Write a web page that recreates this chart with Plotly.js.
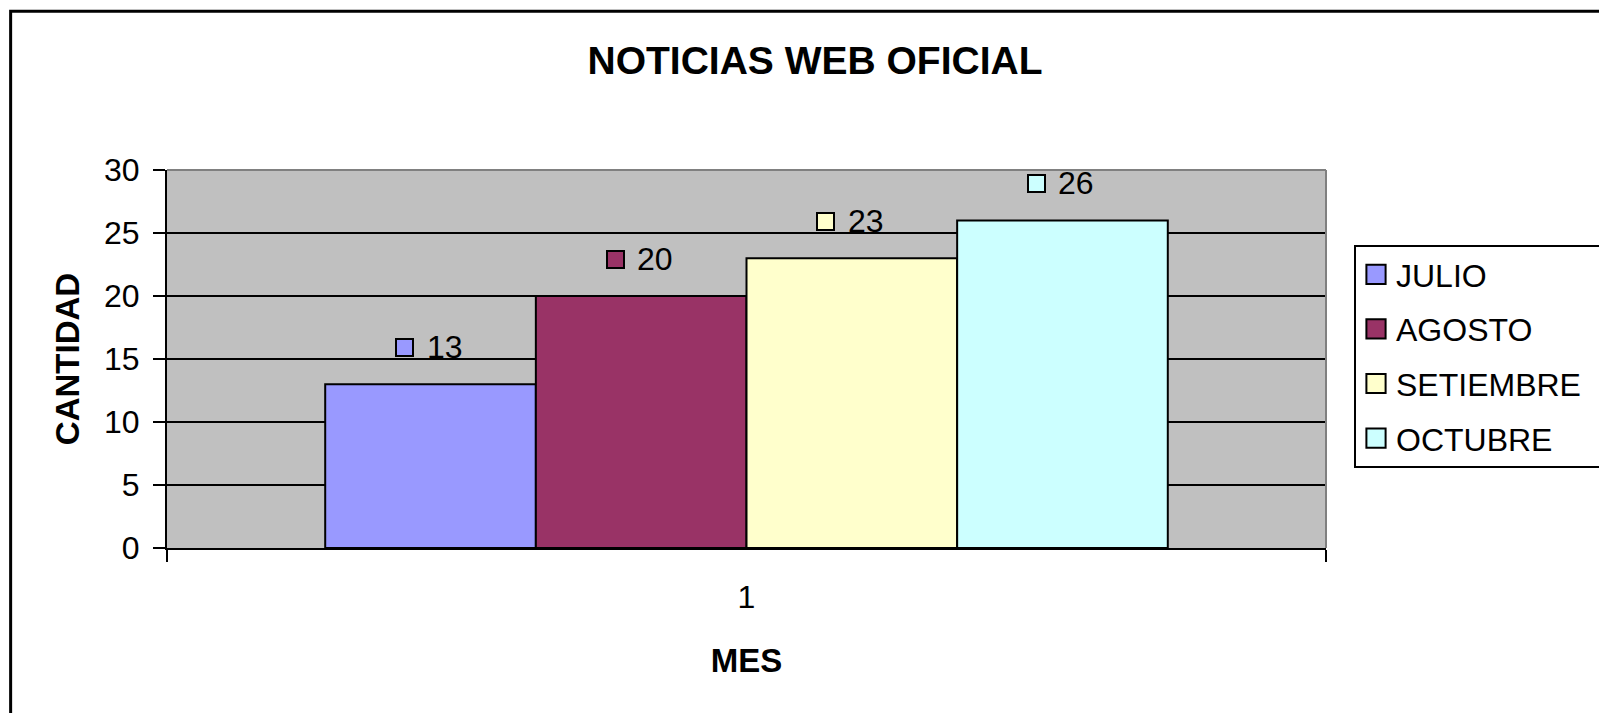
<!DOCTYPE html>
<html>
<head>
<meta charset="utf-8">
<script src="https://cdn.plot.ly/plotly-3.0.1.min.js"></script>
<style>
  html, body { margin: 0; padding: 0; background: #ffffff; }
  #chart { width: 1599px; height: 713px; }
</style>
</head>
<body>
<div id="chart"></div>
<script>
// ---- data ----
const categories = ['1'];
const seriesNames = ['JULIO', 'AGOSTO', 'SETIEMBRE', 'OCTUBRE'];
const julio = [13];
const agosto = [20];
const setiembre = [23];
const octubre = [26];
const yTickVals = [0, 5, 10, 15, 20, 25, 30];

const seriesValues = [julio, agosto, setiembre, octubre];
const colors = ['#9999FF', '#993366', '#FFFFCC', '#CCFFFF'];
const FONT = 'Liberation Sans, Arial, Helvetica, sans-serif';
const bargap = 0.273;

const traces = seriesNames.map((name, i) => ({
  type: 'bar',
  name: name,
  x: categories,
  y: seriesValues[i],
  legendgroup: name,
  marker: { color: colors[i], line: { color: '#000000', width: 2 } },
  hoverinfo: 'name+y'
}));

// data labels: legend-key square + value, above each bar
const annotations = [];
const n = seriesNames.length;
const barW = (1 - bargap) / n;
seriesNames.forEach((name, i) => {
  seriesValues[i].forEach((v, ci) => {
    const xc = ci + (i - (n - 1) / 2) * barW;
    annotations.push({
      x: xc, y: v, xref: 'x', yref: 'y',
      text: ' ', showarrow: false,
      width: 15, height: 15, borderpad: 0,
      bgcolor: colors[i], bordercolor: '#000000', borderwidth: 2,
      xanchor: 'center', yanchor: 'middle',
      xshift: -26, yshift: 37
    });
    annotations.push({
      x: xc, y: v, xref: 'x', yref: 'y',
      text: String(v), showarrow: false,
      font: { family: FONT, size: 32, color: '#000000' },
      xanchor: 'left', yanchor: 'middle',
      xshift: -6, yshift: 37
    });
  });
});

// plot-area geometry (px) used to place the frame
const L = 167, R = 272, T = 170, B = 165;
const W = 1599 - L - R, H = 713 - T - B;

const layout = {
  width: 1599, height: 713,
  margin: { l: L, r: R, t: T, b: B, pad: 0 },
  paper_bgcolor: '#FFFFFF',
  plot_bgcolor: '#C0C0C0',
  barmode: 'group',
  bargap: bargap,
  bargroupgap: 0,
  font: { family: FONT, size: 32, color: '#000000' },
  title: {
    text: 'NOTICIAS WEB OFICIAL',
    font: { family: FONT, size: 39, color: '#000000', weight: 'bold' },
    xref: 'container', yref: 'container',
    x: 815 / 1599, y: 1 - 60 / 713,
    xanchor: 'center', yanchor: 'middle'
  },
  xaxis: {
    type: 'category',
    tickson: 'boundaries',
    ticks: 'outside', ticklen: 12, tickwidth: 2, tickcolor: '#000000',
    ticklabelstandoff: 20,
    showline: true, linecolor: '#000000', linewidth: 2,
    showgrid: false, zeroline: false,
    tickfont: { family: FONT, size: 32, color: '#000000' },
    title: {
      text: 'MES',
      font: { family: FONT, size: 33, color: '#000000', weight: 'bold' },
      standoff: 34
    },
    fixedrange: true
  },
  yaxis: {
    range: [0, 30],
    tickvals: yTickVals,
    ticks: 'outside', ticklen: 12, tickwidth: 2, tickcolor: '#000000',
    ticklabelstandoff: 7,
    showline: true, linecolor: '#000000', linewidth: 2,
    showgrid: true, gridcolor: '#000000', gridwidth: 2,
    zeroline: false,
    tickfont: { family: FONT, size: 32, color: '#000000' },
    title: {
      text: 'CANTIDAD',
      font: { family: FONT, size: 33, color: '#000000', weight: 'bold' },
      standoff: 14
    },
    fixedrange: true
  },
  showlegend: true,
  legend: {
    x: (1354 - L) / W, y: (713 - B - 245) / H,
    xanchor: 'left', yanchor: 'top',
    bgcolor: '#FFFFFF', bordercolor: '#000000', borderwidth: 2,
    font: { family: FONT, size: 32, color: '#000000' },
    traceorder: 'grouped', tracegroupgap: 10,
    itemclick: false, itemdoubleclick: false
  },
  annotations: annotations,
  shapes: [
    // grey top & right edges of the plot area
    { type: 'line', xref: 'paper', yref: 'paper', x0: 0, x1: 1, y0: 1, y1: 1,
      line: { color: '#808080', width: 2 }, layer: 'above' },
    { type: 'line', xref: 'paper', yref: 'paper', x0: 1, x1: 1, y0: 0, y1: 1,
      line: { color: '#808080', width: 2 }, layer: 'above' },
    // outer chart frame
    { type: 'rect', xref: 'paper', yref: 'paper',
      x0: (10.5 - L) / W, x1: 1.35,
      y0: -0.6, y1: (713 - B - 11.3) / H,
      line: { color: '#000000', width: 3 }, fillcolor: 'rgba(0,0,0,0)', layer: 'above' }
  ]
};

Plotly.newPlot('chart', traces, layout, { displayModeBar: false, responsive: false }).then(gd => {
  // enlarge legend key squares to match the reference (≈20px keys)
  gd.querySelectorAll('.legend .legendpoints path').forEach(p => {
    const t = p.getAttribute('transform') || '';
    p.setAttribute('transform', t + ' scale(1.6)');
    p.style.strokeWidth = '1.25px';
  });
  // legend frame runs past the right edge of the chart in the reference
  const bg = gd.querySelector('.legend rect.bg');
  if (bg) {
    const w = parseFloat(bg.getAttribute('width'));
    bg.setAttribute('width', String(w + 40));
  }
});
</script>
</body>
</html>
